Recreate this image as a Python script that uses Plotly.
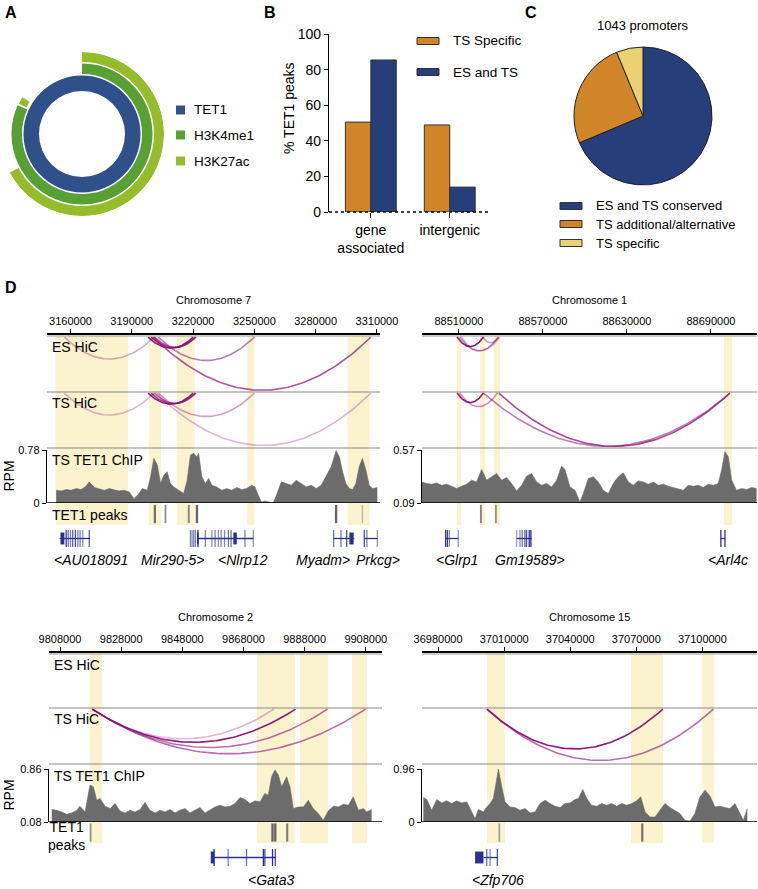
import numpy as np
import plotly.graph_objects as go

# ---------------- panel A : nested rings (share of TET1 peaks) ----------------
ring_labels = ["TET1", "H3K4me1", "H3K27ac"]
ring_colors = ["#2f5089", "#58a034", "#95bd2b"]
ring_pct = [100.0, 81.7, 67.2]          # clockwise from 12 o'clock
h3k27ac_extra_pct = 1.7                 # small H3K27ac piece after the H3K4me1 ring

# ---------------- panel B ----------------
b_categories = ["gene<br>associated", "intergenic"]
b_ts_specific = [50.5, 48.9]
b_es_and_ts = [85.4, 14.0]

# ---------------- panel C ----------------
c_title = "1043 promoters"
c_labels = ["ES and TS conserved", "TS additional/alternative", "TS specific"]
c_values = [716, 262, 65]

# ---------------- panel D : Chromosome 7 ----------------
chr7_range = [3148500, 3311500]
chr7_ticks = [3160000, 3190000, 3220000, 3250000, 3280000, 3310000]
chr7_chip_lim = [0, 0.78]
chr7_chip_pos = [3153000, 3155500, 3157900, 3160300, 3162800, 3165200, 3167600, 3169200, 3171700, 3174100,
                 3176500, 3179000, 3181400, 3183800, 3186300, 3188700, 3191100, 3193500, 3195200, 3197600,
                 3199200, 3200800, 3202500, 3204100, 3205700, 3207300, 3208900, 3210600, 3213000, 3215400,
                 3217100, 3218700, 3220300, 3221900, 3222700, 3224300, 3226000, 3227600, 3229200, 3231600,
                 3234100, 3236500, 3238900, 3241400, 3243800, 3246200, 3248700, 3250300, 3251900, 3253500,
                 3255100, 3257600, 3259200, 3260800, 3263200, 3265700, 3268100, 3270500, 3273000, 3275400,
                 3277800, 3280300, 3282700, 3285100, 3287600, 3290000, 3291600, 3293200, 3294800, 3296500,
                 3298100, 3299700, 3301300, 3302900, 3304600, 3306200, 3307800, 3310200]
chr7_chip_val = [0.188, 0.178, 0.197, 0.188, 0.212, 0.197, 0.247, 0.311, 0.227, 0.212,
                 0.188, 0.212, 0.197, 0.178, 0.188, 0.163, 0.064, 0.138, 0.212, 0.188,
                 0.385, 0.657, 0.558, 0.286, 0.410, 0.459, 0.286, 0.237, 0.188, 0.138,
                 0.336, 0.706, 0.731, 0.681, 0.731, 0.385, 0.286, 0.360, 0.262, 0.237,
                 0.188, 0.212, 0.188, 0.227, 0.197, 0.212, 0.262, 0.237, 0.114, 0.015,
                 0.030, 0.015, 0.0, 0.114, 0.311, 0.286, 0.262, 0.336, 0.286, 0.237,
                 0.262, 0.212, 0.262, 0.385, 0.533, 0.770, 0.681, 0.459, 0.286, 0.212,
                 0.197, 0.286, 0.533, 0.657, 0.484, 0.262, 0.212, 0.227]
chr7_peaks = [3201300, 3206500, 3217900, 3221900, 3290000, 3302900]
chr7_peak_strength = [0.8, 0.5, 0.6, 0.9, 0.9, 0.2]
chr7_bands = [(3152700, 3188200), (3198400, 3204250), (3212000, 3220750), (3246550, 3250000), (3295650, 3306350)]
chr7_es_arcs = [(3157000, 3201000, 0.35), (3198000, 3220000, 0.95), (3199500, 3221000, 0.85),
                (3201000, 3221500, 0.7), (3203000, 3250000, 0.55), (3200500, 3307000, 0.7)]
chr7_ts_arcs = [(3157000, 3201000, 0.3), (3198000, 3220000, 0.95), (3199500, 3221000, 0.8),
                (3201000, 3221500, 0.6), (3203000, 3250000, 0.4), (3202000, 3307000, 0.3)]
chr7_genes = [
    ("<AU018091", 3169900, (3154700, 3169600),
     [3157900, 3158900, 3160000, 3161100, 3162400, 3163600, 3164700, 3166000, 3169200],
     [0.9, 0.6, 0.5, 0.7, 0.8, 0.5, 0.5, 0.4, 0.7], [(3155100, 3157000)]),
    ("Mir290-5>", 3209800, None, [3218700, 3219500, 3220300, 3221100], [0.45, 0.5, 0.45, 0.5], []),
    ("<Nlrp12", 3244600, (3221900, 3249500),
     [3222400, 3226000, 3229200, 3230800, 3232400, 3233700, 3235400, 3237300, 3238600, 3245400, 3249500],
     [1.0, 0.5, 0.4, 0.5, 0.4, 0.5, 0.5, 0.6, 0.6, 0.5, 0.4], [(3221900, 3222700), (3239700, 3241400)]),
    ("Myadm>", 3283500, (3288800, 3298900), [3288800, 3292400, 3295200], [0.6, 0.6, 0.8], [(3296500, 3298600)]),
    ("Prkcg>", 3310700, (3303800, 3310200), [3303800, 3305100, 3310200], [0.8, 0.5, 0.4], []),
]

# ---------------- panel D : Chromosome 1 ----------------
chr1_range = [88483600, 88722900]
chr1_ticks = [88510000, 88570000, 88630000, 88690000]
chr1_chip_lim = [0.09, 0.57]
chr1_chip_pos = [88483300, 88486900, 88490500, 88494000, 88497600, 88501200, 88504800, 88508300, 88511900, 88515500,
                 88519000, 88522600, 88526200, 88529800, 88533300, 88536900, 88540500, 88544000, 88547600, 88551200,
                 88554800, 88558300, 88561900, 88565500, 88569000, 88572600, 88576200, 88579800, 88583300, 88585700,
                 88589300, 88592900, 88596400, 88598800, 88602400, 88606000, 88609500, 88613100, 88616700, 88620200,
                 88623800, 88627400, 88631000, 88634500, 88638100, 88641700, 88645200, 88648800, 88652400, 88656000,
                 88659500, 88663100, 88666700, 88670200, 88673800, 88677400, 88681000, 88684500, 88688100, 88691700,
                 88695200, 88697600, 88700000, 88702400, 88704800, 88708300, 88711900, 88715500, 88719100, 88722600]
chr1_chip_val = [0.281, 0.266, 0.260, 0.272, 0.251, 0.260, 0.242, 0.221, 0.242, 0.260,
                 0.297, 0.281, 0.394, 0.297, 0.327, 0.357, 0.297, 0.321, 0.266, 0.199,
                 0.251, 0.333, 0.357, 0.281, 0.251, 0.266, 0.236, 0.297, 0.424, 0.394,
                 0.236, 0.205, 0.099, 0.175, 0.312, 0.327, 0.281, 0.205, 0.175, 0.266,
                 0.327, 0.363, 0.281, 0.251, 0.290, 0.281, 0.260, 0.281, 0.251, 0.260,
                 0.242, 0.230, 0.221, 0.205, 0.251, 0.242, 0.251, 0.230, 0.260, 0.251,
                 0.266, 0.388, 0.555, 0.509, 0.297, 0.205, 0.221, 0.212, 0.230, 0.221]
chr1_peaks = [88525700, 88536400]
chr1_peak_strength = [0.6, 0.5]
chr1_bands = [(88508600, 88511400), (88525000, 88528600), (88535000, 88539300), (88699300, 88705000)]
chr1_es_arcs = [(88508600, 88527500, 0.95), (88510500, 88538000, 0.45), (88511500, 88539000, 0.35),
                (88527000, 88538500, 0.4)]
chr1_ts_arcs = [(88508600, 88527500, 0.95), (88510500, 88537500, 0.45), (88527500, 88703500, 0.55),
                (88538500, 88703500, 0.75)]
chr1_genes = [
    ("<Glrp1", 88508300, (88500500, 88509500), [88500500, 88501700, 88503100, 88509500], [0.9, 0.9, 0.5, 0.4], []),
    ("Gm19589>", 88560700, (88551200, 88561900),
     [88551200, 88553600, 88555200, 88557100, 88558300, 88560200, 88561400], [0.3, 0.4, 0.6, 0.7, 0.8, 1.0, 1.0], []),
    ("<Arl4c", 88702400, (88697100, 88700000), [88697100, 88700000], [1.0, 1.0], []),
]

# ---------------- panel D : Chromosome 2 ----------------
chr2_range = [9804400, 9913300]
chr2_ticks = [9808000, 9828000, 9848000, 9868000, 9888000, 9908000]
chr2_chip_lim = [0.08, 0.86]
chr2_chip_pos = [9805300, 9806900, 9808500, 9810200, 9811800, 9813500, 9814500, 9816200, 9817800, 9818900,
                 9820000, 9821100, 9822700, 9824400, 9826000, 9827600, 9829300, 9830900, 9832500, 9834200,
                 9835800, 9837400, 9839100, 9840700, 9842300, 9844000, 9845600, 9847200, 9848900, 9850500,
                 9852100, 9853800, 9855400, 9857100, 9858700, 9860300, 9862000, 9863600, 9865200, 9866900,
                 9868500, 9870100, 9871800, 9873400, 9875000, 9876100, 9877200, 9878300, 9879400, 9880500,
                 9882100, 9883200, 9884300, 9885900, 9887600, 9889200, 9890800, 9892500, 9894100, 9895700,
                 9897400, 9899000, 9900700, 9902300, 9903900, 9905600, 9907200, 9908300, 9909900]
chr2_chip_val = [0.263, 0.253, 0.228, 0.194, 0.213, 0.253, 0.312, 0.228, 0.623, 0.598,
                 0.401, 0.426, 0.312, 0.277, 0.352, 0.243, 0.213, 0.253, 0.228, 0.263,
                 0.371, 0.253, 0.213, 0.253, 0.228, 0.263, 0.213, 0.253, 0.277, 0.213,
                 0.253, 0.292, 0.213, 0.253, 0.302, 0.327, 0.302, 0.312, 0.352, 0.440,
                 0.411, 0.352, 0.391, 0.376, 0.500, 0.475, 0.746, 0.845, 0.771, 0.598,
                 0.746, 0.598, 0.277, 0.302, 0.302, 0.401, 0.277, 0.203, 0.105, 0.243,
                 0.312, 0.302, 0.342, 0.327, 0.450, 0.253, 0.277, 0.228, 0.263]
chr2_peaks = [9818000, 9877500, 9878400, 9882300]
chr2_peak_strength = [0.5, 0.9, 0.9, 0.7]
chr2_bands = [(9817800, 9821700), (9872400, 9884800), (9886500, 9895600), (9903500, 9908400)]
chr2_es_arcs = []
chr2_ts_arcs = [(9818500, 9878000, 0.3), (9818500, 9885000, 0.95), (9818500, 9895500, 0.6), (9818500, 9908000, 0.6)]
chr2_genes = [
    ("<Gata3", 9877200, (9858400, 9878600),
     [9858400, 9863000, 9869000, 9874500, 9875000, 9877500, 9878400], [1.0, 0.5, 0.6, 1.0, 0.8, 1.0, 0.8],
     [(9857300, 9858400)]),
]

# ---------------- panel D : Chromosome 15 ----------------
chr15_range = [36972700, 37124800]
chr15_ticks = [36980000, 37010000, 37040000, 37070000, 37100000]
chr15_chip_lim = [0, 0.96]
chr15_chip_pos = [36973300, 36974900, 36977100, 36979400, 36981700, 36983900, 36986200, 36988500, 36990700, 36993000,
                  36995300, 36996800, 36998300, 37000600, 37002100, 37003600, 37005100, 37006300, 37007400, 37008900,
                  37010400, 37012700, 37014900, 37017200, 37019500, 37021800, 37024000, 37026300, 37028600, 37030800,
                  37033100, 37035400, 37037600, 37039900, 37042200, 37043700, 37045700, 37047500, 37049700, 37052000,
                  37054300, 37056600, 37058800, 37061100, 37063400, 37065600, 37067900, 37070200, 37072000, 37074000,
                  37076200, 37078500, 37080800, 37083000, 37085300, 37087600, 37089800, 37092100, 37094400, 37096600,
                  37098900, 37101200, 37103500, 37105700, 37108000, 37110300, 37112500, 37114800, 37117100, 37118600,
                  37120400]
chr15_chip_val = [0.444, 0.407, 0.213, 0.407, 0.346, 0.383, 0.334, 0.383, 0.346, 0.365,
                  0.182, 0.061, 0.225, 0.182, 0.273, 0.334, 0.425, 0.699, 0.960, 0.638,
                  0.365, 0.273, 0.261, 0.213, 0.243, 0.164, 0.182, 0.334, 0.395, 0.334,
                  0.286, 0.261, 0.334, 0.346, 0.407, 0.425, 0.589, 0.425, 0.304, 0.286,
                  0.334, 0.304, 0.334, 0.286, 0.334, 0.304, 0.334, 0.383, 0.456, 0.182,
                  0.091, 0.091, 0.213, 0.334, 0.261, 0.200, 0.152, 0.030, 0.018, 0.152,
                  0.456, 0.577, 0.468, 0.273, 0.286, 0.261, 0.243, 0.334, 0.164, 0.030,
                  0.243]
chr15_peaks = [37007800, 37072700]
chr15_peak_strength = [0.4, 0.8]
chr15_bands = [(37002200, 37010400), (37067600, 37082100), (37099900, 37105300)]
chr15_es_arcs = []
chr15_ts_arcs = [(37002200, 37082000, 0.95), (37002200, 37105000, 0.6)]
chr15_genes = [
    ("<Zfp706", 37007400, (37000600, 37006900), [37002100, 37003600, 37006900], [0.6, 0.5, 0.8],
     [(36996800, 37000600)]),
]

REGIONS = [
    dict(title="Chromosome 7", rng=chr7_range, ticks=chr7_ticks, lim=chr7_chip_lim, pos=chr7_chip_pos,
         val=chr7_chip_val, peaks=chr7_peaks, pstr=chr7_peak_strength, bands=chr7_bands,
         es=chr7_es_arcs, ts=chr7_ts_arcs, genes=chr7_genes),
    dict(title="Chromosome 1", rng=chr1_range, ticks=chr1_ticks, lim=chr1_chip_lim, pos=chr1_chip_pos,
         val=chr1_chip_val, peaks=chr1_peaks, pstr=chr1_peak_strength, bands=chr1_bands,
         es=chr1_es_arcs, ts=chr1_ts_arcs, genes=chr1_genes),
    dict(title="Chromosome 2", rng=chr2_range, ticks=chr2_ticks, lim=chr2_chip_lim, pos=chr2_chip_pos,
         val=chr2_chip_val, peaks=chr2_peaks, pstr=chr2_peak_strength, bands=chr2_bands,
         es=chr2_es_arcs, ts=chr2_ts_arcs, genes=chr2_genes),
    dict(title="Chromosome 15", rng=chr15_range, ticks=chr15_ticks, lim=chr15_chip_lim, pos=chr15_chip_pos,
         val=chr15_chip_val, peaks=chr15_peaks, pstr=chr15_peak_strength, bands=chr15_bands,
         es=chr15_es_arcs, ts=chr15_ts_arcs, genes=chr15_genes),
]

# pixel geometry of each genome-browser panel
TOP = dict(axis=333, title=300, es=(336, 392), ts=(392, 448), chip=(450, 503), peaks=(503, 525),
           genes=(530, 547), gene_lab=560)
BOT = dict(axis=651, title=617, es=(654, 708), ts=(708, 764), chip=(769, 822), peaks=(822, 843),
           genes=(849, 866), gene_lab=880)
GEO = [dict(TOP, x=(47, 380), left=True), dict(TOP, x=(422, 757), left=False),
       dict(BOT, x=(49, 382), left=True), dict(BOT, x=(422, 757), left=False)]

W, H = 758, 889
FONT = "Liberation Sans, Arial, Helvetica, sans-serif"
ORANGE = "#d08529"
NAVY = "#263f7b"
YELLOW = "#ecd174"
GENE_BLUE = (43, 47, 143)
CHIP_GRAY = "#6b6c6b"
BAND = "#fbf3cd"


def fx(x):
    return x / W


def fy(y):
    return 1 - y / H


fig = go.Figure()
shapes, annotations = [], []
layout = {}


def text(x, y, s, size=13, xanchor="left", yanchor="middle", angle=0, xref="paper", italic=False):
    annotations.append(dict(x=x if xref != "paper" else fx(x), y=fy(y), xref=xref, yref="paper", text=s,
                            showarrow=False, xanchor=xanchor, yanchor=yanchor, textangle=angle,
                            font=dict(family=FONT, size=size, color="black",
                                      style="italic" if italic else "normal")))


def box(x0, x1, yc, color, h=7, outline="#333"):
    shapes.append(dict(type="rect", xref="paper", yref="paper", x0=fx(x0), x1=fx(x1),
                       y0=fy(yc + h / 2), y1=fy(yc - h / 2), fillcolor=color,
                       line=dict(color=outline, width=1 if outline else 0)))


# panel letters
for lab, x, y in [("A", 3, 12), ("B", 262, 12), ("C", 523, 12), ("D", 3, 287)]:
    text(x, y, f"<b>{lab}</b>", size=16)

# ---------------- panel A ----------------
radii = [(43, 58.5), (60, 70.5), (72, 82)]
for lab, col, pct, (r0, r1) in zip(ring_labels, ring_colors, ring_pct, radii):
    fig.add_trace(go.Barpolar(r=[r1 - r0], base=[r0], theta=[pct * 1.8], width=[pct * 3.6],
                              marker=dict(color=col, line=dict(width=0)), subplot="polar", hoverinfo="skip"))
start = ring_pct[1] * 3.6 + 1.5
w = h3k27ac_extra_pct * 3.6
fig.add_trace(go.Barpolar(r=[radii[1][1] - radii[1][0] - 2], base=[radii[1][0] + 1.5], theta=[start + w / 2],
                          width=[w], marker=dict(color=ring_colors[2], line=dict(width=0)),
                          subplot="polar", hoverinfo="skip"))
layout["polar"] = dict(domain=dict(x=[0, fx(164)], y=[fy(216), fy(52)]), bgcolor="rgba(0,0,0,0)",
                       angularaxis=dict(visible=False, rotation=90, direction="clockwise"),
                       radialaxis=dict(visible=False, range=[0, 82]), hole=0)
for lab, col, yc in zip(ring_labels, ring_colors, [110, 135, 161]):
    box(176, 185, yc, col, h=9, outline=None)
    text(192, yc, lab, size=13.5)

# ---------------- panel B ----------------
bar_line = dict(color="#333", width=1)
fig.add_trace(go.Bar(x=b_categories, y=b_ts_specific, marker=dict(color=ORANGE, line=bar_line),
                     xaxis="x", yaxis="y", hoverinfo="skip"))
fig.add_trace(go.Bar(x=b_categories, y=b_es_and_ts, marker=dict(color=NAVY, line=bar_line),
                     xaxis="x", yaxis="y", hoverinfo="skip"))
layout["xaxis"] = dict(domain=[fx(329), fx(490)], anchor="y", type="category", range=[-0.53, 1.51],
                       showline=False, ticks="outside", ticklen=5, tickcolor="black", showgrid=False,
                       zeroline=False, tickfont=dict(family=FONT, size=14, color="black"))
layout["yaxis"] = dict(domain=[fy(212), fy(34)], anchor="x", range=[0, 100], tickvals=[0, 20, 40, 60, 80, 100],
                       showline=True, linecolor="black", linewidth=1.2, ticks="outside", ticklen=4,
                       tickcolor="black", showgrid=False, zeroline=False,
                       tickfont=dict(family=FONT, size=14, color="black"))
shapes.append(dict(type="line", xref="paper", yref="paper", x0=fx(329), x1=fx(490), y0=fy(212), y1=fy(212),
                   line=dict(color="black", width=1.5, dash="dot")))
text(289, 108, "% TET1 peaks", size=14, xanchor="center", angle=-90)
for lab, col, yc in [("TS Specific", ORANGE, 41), ("ES and TS", NAVY, 72)]:
    box(417, 439, yc, col)
    text(451, yc, lab, size=13.5)

# ---------------- panel C ----------------
fig.add_trace(go.Pie(labels=c_labels, values=c_values, sort=False, direction="clockwise", rotation=0,
                     marker=dict(colors=[NAVY, ORANGE, YELLOW], line=dict(color="#222", width=1)),
                     textinfo="none", hoverinfo="skip",
                     domain=dict(x=[fx(574), fx(712)], y=[fy(185), fy(47)])))
text(643, 25, c_title, size=13, xanchor="center")
for lab, col, yc in zip(c_labels, [NAVY, ORANGE, YELLOW], [206, 224, 243]):
    box(560, 582, yc, col)
    text(594, yc, lab, size=13)

# ---------------- panel D ----------------
for i, (reg, g) in enumerate(zip(REGIONS, GEO)):
    xi = i + 2
    xn = f"x{xi}"
    y_es, y_ts, y_chip, y_pk, y_gene = [2 + 5 * i + j for j in range(5)]
    x0, x1 = g["x"]
    layout[f"xaxis{xi}"] = dict(domain=[fx(x0), fx(x1)], range=reg["rng"], type="linear", anchor="free",
                                position=fy(g["axis"]), side="top", showline=True, linecolor="black",
                                linewidth=1.5, ticks="outside", ticklen=4, tickcolor="black",
                                tickvals=reg["ticks"], ticktext=[str(t) for t in reg["ticks"]],
                                showgrid=False, zeroline=False,
                                tickfont=dict(family=FONT, size=11, color="black"))

    def yax(n, top_bot, **kw):
        d = dict(domain=[fy(top_bot[1]), fy(top_bot[0])], anchor=xn, showgrid=False, zeroline=False)
        d.update(kw)
        layout[f"yaxis{n}"] = d

    yax(y_es, g["es"], range=[-1, 0.02], visible=False)
    yax(y_ts, g["ts"], range=[-1, 0.02], visible=False)
    lo, hi = reg["lim"]
    yax(y_chip, g["chip"], range=[lo, hi], showline=True, linecolor="black", linewidth=1.2,
        ticks="outside", ticklen=4, tickcolor="black", tickvals=[lo, hi], ticktext=[f"{lo:g}", f"{hi:g}"],
        tickfont=dict(family=FONT, size=11, color="black"))
    yax(y_pk, g["peaks"], range=[0, 1], visible=False)
    yax(y_gene, g["genes"], range=[-1, 1], visible=False)

    title_x = (x0 + x1) / 2
    text(title_x, g["title"], reg["title"], size=11, xanchor="center")

    # highlight bands
    for b0, b1 in reg["bands"]:
        shapes.append(dict(type="rect", xref=xn, yref="paper", x0=b0, x1=b1, y0=fy(g["peaks"][1]),
                           y1=fy(g["es"][0]), fillcolor=BAND, line=dict(width=0), layer="below"))
    # separators
    for yy, col in [(g["axis"] + 3, "#999"), (g["ts"][0], "#888"), (g["ts"][1], "#888")]:
        shapes.append(dict(type="line", xref="paper", yref="paper", x0=fx(x0), x1=fx(x1), y0=fy(yy), y1=fy(yy),
                           line=dict(color=col, width=1.2)))

    # HiC arcs
    t = np.linspace(0, 1, 80)
    for arcs, yn in [(reg["es"], y_es), (reg["ts"], y_ts)]:
        for s, e, a in arcs:
            depth = min((e - s) / 1.1e5, 0.97)
            fig.add_trace(go.Scatter(x=s + (e - s) * t, y=-4 * depth * t * (1 - t), mode="lines",
                                     line=dict(color=f"rgba(136,14,118,{a})", width=1.6),
                                     xaxis=xn, yaxis=f"y{yn}", hoverinfo="skip"))

    # ChIP signal
    fig.add_trace(go.Scatter(x=reg["pos"], y=reg["val"], mode="lines", fill="tozeroy", fillcolor=CHIP_GRAY,
                             line=dict(color=CHIP_GRAY, width=0.6), xaxis=xn, yaxis=f"y{y_chip}",
                             hoverinfo="skip"))
    shapes.append(dict(type="line", xref=f"{xn} domain", yref=f"y{y_chip}", x0=0, x1=1, y0=lo, y1=lo,
                       line=dict(color="black", width=1.6)))

    # TET1 peaks
    pcol = [f"rgb({int(205 - 115 * s)},{int(205 - 115 * s)},{int(205 - 115 * s)})" for s in reg["pstr"]]
    fig.add_trace(go.Scatter(x=reg["peaks"], y=[0.5] * len(reg["peaks"]), mode="markers",
                             marker=dict(symbol="line-ns", size=13,
                                         line=dict(color=pcol, width=[1.2 + 1.3 * s for s in reg["pstr"]])),
                             xaxis=xn, yaxis=f"y{y_pk}", hoverinfo="skip"))

    # genes
    r, gg, b = GENE_BLUE
    for name, lab_x, span, exons, estr, blocks in reg["genes"]:
        if span:
            fig.add_trace(go.Scatter(x=list(span), y=[0, 0], mode="lines",
                                     line=dict(color=f"rgb({r},{gg},{b})", width=1.3),
                                     xaxis=xn, yaxis=f"y{y_gene}", hoverinfo="skip"))
        fig.add_trace(go.Scatter(x=exons, y=[0] * len(exons), mode="markers",
                                 marker=dict(symbol="line-ns", size=17,
                                             line=dict(color=[f"rgba({r},{gg},{b},{0.2 + 0.8 * s})" for s in estr],
                                                       width=1.3)),
                                 xaxis=xn, yaxis=f"y{y_gene}", hoverinfo="skip"))
        if blocks:
            fig.add_trace(go.Bar(x=[(a + c) / 2 for a, c in blocks], y=[1.4] * len(blocks), base=-0.7,
                                 width=[c - a for a, c in blocks], marker=dict(color=f"rgb({r},{gg},{b})",
                                                                             line=dict(width=0)),
                                 xaxis=xn, yaxis=f"y{y_gene}", hoverinfo="skip"))
        label = name.replace("<", "&lt;").replace(">", "&gt;")
        text(lab_x, g["gene_lab"], label, size=14, xanchor="center", xref=xn, italic=True)

    # track labels on the left panels
    if g["left"]:
        lx = x0 + 3
        text(lx, g["es"][0] + 11, "ES HiC", size=14)
        text(lx, g["ts"][0] + 11, "TS HiC", size=14)
        text(lx, g["ts"][1] + 12, "TS TET1 ChIP", size=14)
        if i == 0:
            text(lx, 515, "TET1 peaks", size=14)
        else:
            text(46, 836, "TET1<br>peaks", size=14)
        text(8, (g["chip"][0] + g["chip"][1]) / 2, "RPM", size=14, xanchor="center", angle=-90)

layout.update(dict(template="none", width=W, height=H, margin=dict(l=0, r=0, t=0, b=0, autoexpand=False),
                   showlegend=False, hovermode=False,
                   paper_bgcolor="white", plot_bgcolor="rgba(0,0,0,0)", barmode="group", bargap=0.355,
                   bargroupgap=0, shapes=shapes, annotations=annotations, font=dict(family=FONT)))
fig.update_layout(**layout)
# the page's default body margin would push the figure 8px off the corner
fig.write_html("out.html", config={"displayModeBar": False, "staticPlot": True},
               post_script="document.body.style.margin='0';document.body.style.overflow='hidden';")
